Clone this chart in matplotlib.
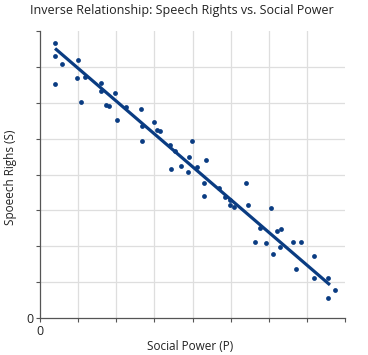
import numpy as np
import matplotlib
matplotlib.use("Agg")
import matplotlib.pyplot as plt

# values
power = [0.395, 0.395, 0.587, 0.395, 1.008, 0.966, 1.071, 1.184, 1.613, 1.605,
         1.974, 1.718, 1.805, 2.026, 2.255, 2.645, 2.684, 2.684, 3.0, 3.071,
         3.158, 3.4, 3.429, 3.553, 3.974, 3.913, 3.689, 3.874, 4.113, 4.363,
         4.308, 4.308, 4.689, 4.863, 4.995, 4.974, 5.092, 5.408, 5.447, 5.776,
         5.632, 5.929, 6.071, 6.229, 6.316, 6.113, 6.303, 6.632, 6.837, 6.705,
         7.192, 7.192, 7.566, 7.566, 7.732]
speech = [7.664, 7.290, 7.077, 6.534, 7.197, 6.685, 6.014, 6.713, 6.562, 6.336,
          6.260, 5.924, 5.905, 5.527, 5.874, 5.827, 5.351, 4.937, 5.455, 5.245,
          5.211, 4.834, 4.154, 4.643, 4.946, 4.490, 4.227, 4.059, 4.210, 4.392,
          3.765, 3.413, 3.625, 3.385, 3.301, 3.161, 3.099, 3.765, 3.161, 2.506,
          2.115, 2.078, 3.071, 2.422, 2.492, 1.779, 1.966, 2.120, 2.120, 1.359,
          1.734, 1.108, 1.108, 0.548, 0.792]

# trend line ends
trend_x = [0.395, 7.605]
trend_y = [7.513, 0.923]

ticks = list(range(9))
tick_labels = ["0"] + [""] * 8

blue = "#0a3c82"

fig = plt.figure(figsize=(3.68, 3.55), dpi=100)
ax = fig.add_axes([0.1087, 0.1042, 0.8288, 0.8085])

ax.scatter(power, speech, s=12, color=blue, zorder=3, linewidths=0)
ax.plot(trend_x, trend_y, color=blue, lw=2.3, zorder=4, solid_capstyle="butt")

ax.set_xlim(0, 8)
ax.set_ylim(0, 8)
ax.set_xticks(ticks)
ax.set_yticks(ticks)
ax.set_xticklabels(tick_labels)
ax.set_yticklabels(tick_labels)

# grid only on inner ticks
for v in range(1, 8):
    ax.axvline(v, color="#dedede", lw=0.9, zorder=1)
    ax.axhline(v, color="#dedede", lw=0.9, zorder=1)

for s in ["top", "right"]:
    ax.spines[s].set_visible(False)
for s in ["left", "bottom"]:
    ax.spines[s].set_color("#555555")
    ax.spines[s].set_linewidth(0.9)
ax.tick_params(length=3, width=0.8, color="#555555", labelsize=9,
               labelcolor="#222222", pad=2)

font = "Open Sans"
for lab in ax.get_xticklabels() + ax.get_yticklabels():
    lab.set_family(font)

fig.text(0.495, 0.97, "Inverse Relationship: Speech Rights vs. Social Power",
         ha="center", va="center", fontsize=9, family=font, color="#222222")
fig.text(0.518, 0.025, "Social Power (P)", ha="center", va="center",
         fontsize=8.5, family=font, color="#222222")
fig.text(0.028, 0.5, "Spoeech Righs (S)", ha="center", va="center",
         rotation=90, fontsize=8.5, family=font, color="#222222")

fig.savefig("out.png", dpi=100)
